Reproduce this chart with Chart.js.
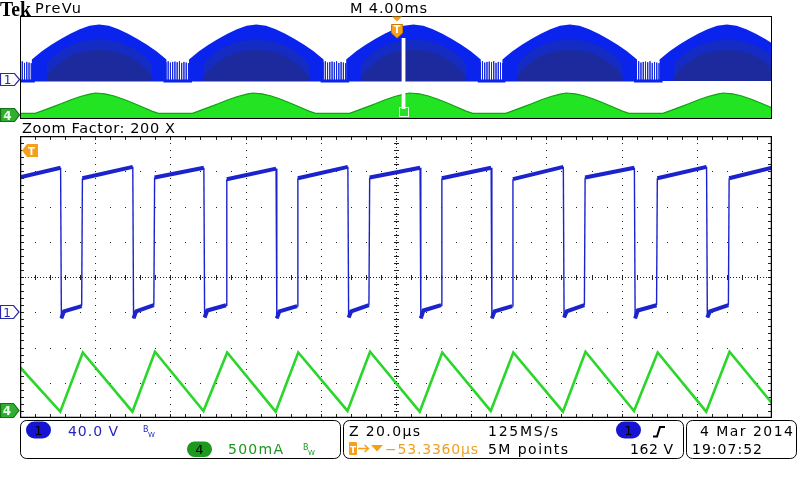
<!DOCTYPE html>
<html>
<head>
<meta charset="utf-8">
<title>Tek PreVu</title>
<script src="https://cdn.jsdelivr.net/npm/chart.js@4/dist/chart.umd.min.js"></script>
<style>
  html, body { margin: 0; padding: 0; background: #fff; }
  body { width: 800px; height: 480px; position: relative; overflow: hidden; }
  canvas { position: absolute; }
  #overview { left: 20px; top: 16px; }
  #zoomed { left: 20px; top: 136px; }
  #overlay { position: absolute; left: 0; top: 0; }
</style>
</head>
<body>
<canvas id="overview" width="752" height="103"></canvas>
<canvas id="zoomed" width="752" height="282"></canvas>

<svg id="overlay" width="800" height="480" font-family="DejaVu Sans, sans-serif">
  <!-- header -->
  <text x="0" y="16" font-family="Liberation Serif, serif" font-weight="bold" font-size="20" textLength="31" lengthAdjust="spacingAndGlyphs">Tek</text>
  <text x="35" y="13" font-size="14.5" textLength="46">PreVu</text>
  <text x="350" y="13" font-size="14.5" textLength="77">M 4.00ms</text>
  <text x="22" y="133" font-size="14.5" textLength="153">Zoom Factor: 200 X</text>

  <!-- overview markers -->
  <polygon points="392,16.5 402,16.5 397,21.5" fill="#f5a01a"/>
  <polygon points="391.5,24.5 402.5,24.5 402.5,33 397,38 391.5,33" fill="#f5a01a" stroke="#d07a00" stroke-width="1"/>
  <text x="397" y="33" font-size="10" font-weight="bold" fill="#fff" text-anchor="middle">T</text>
  <polygon points="0.5,73.5 14.5,73.5 19.5,79.5 14.5,85.5 0.5,85.5" fill="#fff" stroke="#2a2aa8" stroke-width="1.2"/>
  <text x="7.5" y="84" font-size="12" fill="#2a2aa8" text-anchor="middle">1</text>
  <polygon points="0.5,108.5 14.5,108.5 19.5,115 14.5,121.5 0.5,121.5" fill="#2fae2f" stroke="#157015" stroke-width="1.2"/>
  <text x="7.5" y="119.5" font-size="12" font-weight="bold" fill="#eaffea" text-anchor="middle">4</text>

  <!-- zoomed window markers -->
  <polygon points="22,150.5 27,144 38,144 38,157 27,157" fill="#f5a01a"/>
  <text x="31.5" y="155" font-size="10" font-weight="bold" fill="#fff" text-anchor="middle">T</text>
  <polygon points="0.5,305.5 13.5,305.5 19,312 13.5,318.5 0.5,318.5" fill="#fff" stroke="#2a2aa8" stroke-width="1.2"/>
  <text x="7" y="317" font-size="12" fill="#2a2aa8" text-anchor="middle">1</text>
  <polygon points="0.5,403.5 13.5,403.5 19,410.5 13.5,417.5 0.5,417.5" fill="#2fae2f" stroke="#157015" stroke-width="1.2"/>
  <text x="7" y="415" font-size="12" font-weight="bold" fill="#eaffea" text-anchor="middle">4</text>

  <!-- status bar -->
  <rect x="20.5" y="420.5" width="320" height="38" rx="6" fill="none" stroke="#000"/>
  <rect x="343.5" y="420.5" width="340" height="38" rx="6" fill="none" stroke="#000"/>
  <rect x="686.5" y="420.5" width="110" height="38" rx="6" fill="none" stroke="#000"/>

  <rect x="26" y="421.5" width="25" height="17" rx="8.5" fill="#1414d2"/>
  <text x="38.5" y="435" font-size="13" text-anchor="middle">1</text>
  <text x="68" y="436" font-size="14" fill="#2424c0" textLength="50">40.0 V</text>
  <text x="143" y="432" font-size="8" fill="#2424c0">B</text>
  <text x="148" y="437" font-size="7" fill="#2424c0">W</text>

  <rect x="187" y="441.5" width="25" height="15.5" rx="7.5" fill="#1d9a1d"/>
  <text x="199.5" y="454" font-size="13" text-anchor="middle">4</text>
  <text x="228" y="453.5" font-size="14" fill="#1d961d" textLength="55">500mA</text>
  <text x="303" y="450" font-size="8" fill="#1d961d">B</text>
  <text x="308" y="455" font-size="7" fill="#1d961d">W</text>

  <text x="349" y="436" font-size="14" textLength="71">Z 20.0µs</text>
  <text x="488" y="436" font-size="14" textLength="70">125MS/s</text>
  <rect x="616" y="421.5" width="25" height="17" rx="8.5" fill="#1414d2"/>
  <text x="628.5" y="435" font-size="13" text-anchor="middle">1</text>
  <path d="M653,436.5 H657 L660,427 H665" fill="none" stroke="#000" stroke-width="2"/>

  <rect x="349" y="442" width="8" height="13" rx="1" fill="#f5a01a"/>
  <text x="353" y="452.5" font-size="9" font-weight="bold" fill="#fff" text-anchor="middle">T</text>
  <path d="M358,448.5 H368 M364.5,445 L368.5,448.5 L364.5,452" fill="none" stroke="#f5a01a" stroke-width="1.5"/>
  <polygon points="371,445 383,445 377,451.5" fill="#f5a01a"/>
  <text x="385" y="453.5" font-size="14" fill="#f0a020" textLength="93">−53.3360µs</text>
  <text x="488" y="453.5" font-size="14" textLength="80">5M points</text>
  <text x="630" y="453.5" font-size="14" textLength="43">162 V</text>

  <text x="700" y="436" font-size="14" textLength="93">4 Mar 2014</text>
  <text x="692" y="453.5" font-size="14" textLength="70">19:07:52</text>
</svg>

<script>
// ---- PreVu overview: 4.00 ms/div, whole record ----
const overviewRangeMs = [-20, 20];
const ovCh1RangeV = [-117.5, 201];
const ovCh4RangeA = [-0.111, 3.696];

// rectified-mains humps seen in the record
const humpCentersMs = [-15.79, -7.43, 0.93, 9.24, 17.60];
const envOffsetsMs = [-3.5, -3.5, -3.0, -2.5, -2.0, -1.5, -1.0, -0.5, 0, 0.5, 1.0, 1.5, 2.0, 2.5, 3.0, 3.5, 3.5];
const envPeakV = [0, 64, 88, 108, 126, 142, 156, 166, 170, 166, 156, 142, 126, 108, 88, 64, 0];
const coreOffsetsMs = [-2.8, -2.8, -2.5, -2.0, -1.5, -1.0, -0.5, 0, 0.5, 1.0, 1.5, 2.0, 2.5, 2.8, 2.8];
const coreMidV = [0, 50, 72, 95, 110, 120, 126, 128, 126, 120, 110, 95, 72, 50, 0];
const coreDeepV = [0, 15, 35, 60, 78, 88, 94, 96, 94, 88, 78, 60, 35, 15, 0];

// burst of switching pulses between humps
const gapStartsMs = [-20.65, -12.29, -3.93, 4.43, 12.74];
const spikeOffsetsMs = [0.05, 0.17, 0.29, 0.41, 0.53, 0.65, 0.77, 0.89, 1.01, 1.13, 1.25];
const spikeV = [58, 61, 57, 59, 60, 58, 61, 56, 59, 57, 55];

// ch4 current envelope
const ch4EnvOffsetsMs = [-3.4, -3.0, -2.5, -2.0, -1.5, -1.0, -0.5, -0.2, 0.3, 0.8, 1.3, 1.8, 2.3, 2.8, 3.15];
const ch4EnvA = [0.1, 0.2, 0.33, 0.46, 0.6, 0.72, 0.81, 0.85, 0.82, 0.74, 0.62, 0.48, 0.33, 0.18, 0.1];
const ch4EnvBaseA = 0.1;

const zoomCenterMs = 0.4;
const zoomWidthMs = 0.2;

// ---- zoomed window: Z 20.0 us/div, ch1 40 V/div, ch4 500 mA/div ----
const timeRangeUs = [-100, 100];
const ch1RangeV = [-120, 200];
const ch4RangeA = [-0.1, 3.9];

const ch1FallUs = [-89.1, -69.9, -51.0, -31.8, -12.7, 6.5, 25.4, 44.6, 63.5, 82.7];
const ch1RiseUs = [-83.5, -64.3, -45.1, -26.2, -7.1, 12.1, 31.0, 50.2, 69.4, 88.5];
const ch1HighStartV = [153, 152, 153, 151, 152, 153, 152, 151, 153, 152, 152];
const ch1HighEndV = [164, 165, 164, 163, 165, 164, 164, 165, 164, 165, 164];
const ch1LowMinV = [-7, -7, -6, -7, -6, -7, -7, -6, -7, -6];
const ch1LowMidV = [1, 1, 2, 1, 1, 2, 1, 1, 2, 1];
const ch1LowEndV = [7, 8, 8, 7, 8, 8, 7, 8, 8, 8];

const ch4TimeUs = [-100, -89.3, -83.3, -70.1, -64.1, -51.2, -44.9, -32.0, -26.0, -12.9, -6.9,
                   6.3, 12.3, 25.2, 31.2, 44.4, 50.4, 63.3, 69.6, 82.5, 88.7, 100];
const ch4CurrentA = [0.62, -0.01, 0.83, -0.01, 0.84, 0.0, 0.83, -0.01, 0.83, 0.0, 0.84,
                     -0.01, 0.83, 0.0, 0.83, -0.01, 0.84, 0.0, 0.83, -0.01, 0.84, 0.11];

const BLUE = '#1b24cc';
const GREEN = '#2ad62a';

// Tek-style graticule: dotted divisions, ticked centre cross, black frame
const graticule = {
    id: 'graticule',
    beforeDatasetsDraw(chart, args, opts) {
        if (!opts.divisions) return;
        const { ctx, chartArea: a } = chart;
        const [nx, ny] = opts.divisions;
        const sub = 5;
        const dx = (a.right - a.left) / nx, dy = (a.bottom - a.top) / ny;
        const r = Math.round;
        ctx.save();
        ctx.fillStyle = '#222';
        for (let i = 1; i < nx; i++) {
            if (i * 2 === nx) continue;
            const x = r(a.left + i * dx);
            for (let k = 1; k < ny * sub; k++) ctx.fillRect(x, r(a.top + k * dy / sub), 1, 1);
        }
        for (let j = 1; j < ny; j++) {
            if (j * 2 === ny) continue;
            const y = r(a.top + j * dy);
            for (let k = 1; k < nx * sub; k++) ctx.fillRect(r(a.left + k * dx / sub), y, 1, 1);
        }
        const cx = r((a.left + a.right) / 2), cy = r((a.top + a.bottom) / 2);
        for (let y = a.top + 2; y < a.bottom; y += 3) ctx.fillRect(cx, r(y), 1, 1);
        for (let x = a.left + 2; x < a.right; x += 3) ctx.fillRect(r(x), cy, 1, 1);
        for (let k = 1; k < ny * sub; k++) {
            const y = r(a.top + k * dy / sub);
            ctx.fillRect(cx - 2, y, 5, 1);
            ctx.fillRect(a.left + 1, y, 3, 1);
            ctx.fillRect(a.right - 4, y, 3, 1);
        }
        for (let k = 1; k < nx * sub; k++) {
            const x = r(a.left + k * dx / sub);
            ctx.fillRect(x, cy - 2, 1, 5);
            ctx.fillRect(x, a.top + 1, 1, 3);
            ctx.fillRect(x, a.bottom - 4, 1, 3);
        }
        ctx.restore();
    },
    afterDatasetsDraw(chart, args, opts) {
        const { ctx, chartArea: a, scales } = chart;
        ctx.save();
        if (opts.zoomWindow) {
            // white strip showing where the zoom window sits in the record
            const z = opts.zoomWindow;
            const x0 = scales.x.getPixelForValue(z.center - z.width / 2);
            const x1 = scales.x.getPixelForValue(z.center + z.width / 2);
            ctx.fillStyle = '#fff';
            ctx.fillRect(x0, z.top, Math.max(x1 - x0, 3), z.bottom - z.top);
            ctx.strokeStyle = '#e4fbe4';
            ctx.lineWidth = 1;
            ctx.strokeRect(Math.round((x0 + x1) / 2) - 4.5, z.bottom - 1.5, 9, 9);
        }
        ctx.strokeStyle = '#000';
        ctx.lineWidth = opts.frameWidth || 1;
        ctx.strokeRect(a.left + 0.5, a.top + 0.5, a.right - a.left - 1, a.bottom - a.top - 1);
        ctx.restore();
    }
};

function humps(offsets, values, lead) {
    const pts = lead ? [lead] : [];
    humpCentersMs.forEach(c => offsets.forEach((o, k) => pts.push({ x: c + o, y: values[k] })));
    return pts;
}

function spikePoints() {
    const pts = [];
    gapStartsMs.forEach(g => spikeOffsetsMs.forEach((o, k) => {
        pts.push({ x: g + o, y: 0 }, { x: g + o, y: spikeV[k] }, { x: g + o, y: 0 });
    }));
    return pts;
}

function ch1Points() {
    const pts = [{ x: timeRangeUs[0], y: ch1HighStartV[0] }];
    ch1FallUs.forEach((tf, i) => {
        const tr = ch1RiseUs[i];
        pts.push({ x: tf - 0.1, y: ch1HighEndV[i] });
        pts.push({ x: tf + 0.1, y: ch1LowMinV[i] });
        pts.push({ x: tf + 0.8, y: ch1LowMidV[i] });
        pts.push({ x: tr - 0.1, y: ch1LowEndV[i] });
        pts.push({ x: tr + 0.1, y: ch1HighStartV[i + 1] });
    });
    pts.push({ x: timeRangeUs[1], y: ch1HighEndV[ch1HighEndV.length - 1] });
    return pts;
}

const hidden = { display: false };

new Chart(document.getElementById('overview'), {
    type: 'line',
    data: {
        datasets: [
            { data: humps(coreOffsetsMs, coreDeepV), yAxisID: 'y', borderWidth: 0,
              backgroundColor: '#1d2a9e', fill: { value: 0 } },
            { data: humps(coreOffsetsMs, coreMidV), yAxisID: 'y', borderWidth: 0,
              backgroundColor: '#142cc4', fill: { value: 0 } },
            { data: humps(envOffsetsMs, envPeakV, { x: overviewRangeMs[0], y: 0 }), yAxisID: 'y',
              borderColor: '#0a24ee', borderWidth: 3, backgroundColor: '#0a24ee', fill: { value: 0 } },
            { data: spikePoints(), yAxisID: 'y', borderColor: '#1226e0', borderWidth: 1, fill: false },
            { data: humps(ch4EnvOffsetsMs, ch4EnvA, { x: overviewRangeMs[0], y: ch4EnvBaseA }), yAxisID: 'y4',
              borderColor: '#12a012', borderWidth: 1.2, backgroundColor: '#22e422', fill: 'start' }
        ]
    },
    options: {
        responsive: false,
        animation: false,
        devicePixelRatio: 1,
        elements: { point: { radius: 0 }, line: { tension: 0 } },
        layout: { padding: 0 },
        plugins: {
            legend: hidden,
            tooltip: { enabled: false },
            graticule: {
                frameWidth: 1,
                zoomWindow: { center: zoomCenterMs, width: zoomWidthMs, top: 22, bottom: 93 }
            }
        },
        scales: {
            x: { type: 'linear', min: overviewRangeMs[0], max: overviewRangeMs[1], display: false },
            y: { min: ovCh1RangeV[0], max: ovCh1RangeV[1], display: false },
            y4: { min: ovCh4RangeA[0], max: ovCh4RangeA[1], display: false }
        }
    },
    plugins: [graticule]
});

new Chart(document.getElementById('zoomed'), {
    type: 'line',
    data: {
        datasets: [
            {
                label: 'Ch1',
                data: ch1Points(),
                yAxisID: 'y',
                borderColor: BLUE,
                borderWidth: 4,
                segment: {
                    // edges are thin, noisy plateaus are thick
                    borderWidth: c => Math.abs(c.p1.parsed.x - c.p0.parsed.x) < 0.3 ? 1.4 : 4
                },
                fill: false
            },
            {
                label: 'Ch4',
                data: ch4TimeUs.map((t, i) => ({ x: t, y: ch4CurrentA[i] })),
                yAxisID: 'y4',
                borderColor: GREEN,
                borderWidth: 2.6,
                fill: false
            }
        ]
    },
    options: {
        responsive: false,
        animation: false,
        devicePixelRatio: 1,
        elements: { point: { radius: 0 }, line: { tension: 0 } },
        layout: { padding: 0 },
        plugins: {
            legend: hidden,
            tooltip: { enabled: false },
            graticule: { divisions: [10, 8], frameWidth: 1.5 }
        },
        scales: {
            x: { type: 'linear', min: timeRangeUs[0], max: timeRangeUs[1], display: false },
            y: { min: ch1RangeV[0], max: ch1RangeV[1], display: false },
            y4: { min: ch4RangeA[0], max: ch4RangeA[1], display: false }
        }
    },
    plugins: [graticule]
});
</script>
</body>
</html>
